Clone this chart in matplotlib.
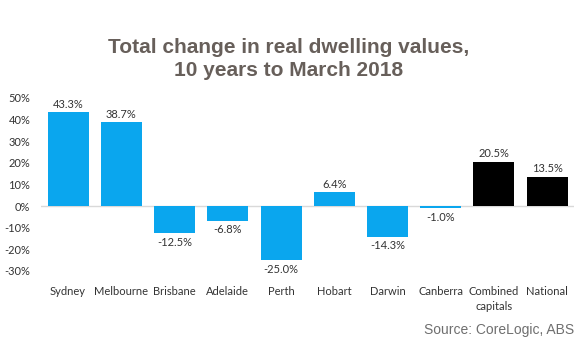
import numpy as np
import matplotlib.pyplot as plt

# Data
regions = ["Sydney", "Melbourne", "Brisbane", "Adelaide", "Perth", "Hobart",
           "Darwin", "Canberra", "Combined\ncapitals", "National"]
change = [43.3, 38.7, -12.5, -6.8, -25.0, 6.4, -14.3, -1.0, 20.5, 13.5]
is_aggregate = [False] * 8 + [True, True]
yticks = [50, 40, 30, 20, 10, 0, -10, -20, -30]

BLUE = "#0AA6EE"
BLACK = "#000000"
TXT = "#333333"
LABEL_FONT = ["Lato", "DejaVu Sans"]

fig = plt.figure(figsize=(5.8, 3.52), dpi=100)
ax = fig.add_axes([0.0714, 0.218, 0.918, 0.516])

x = np.arange(len(regions))
colors = [BLACK if agg else BLUE for agg in is_aggregate]
ax.bar(x, change, width=0.77, color=colors, zorder=2)

# zero line
ax.axhline(0, color="#d9d9d9", linewidth=1, zorder=1)

# value labels
for xi, v in zip(x, change):
    if v >= 0:
        ax.text(xi, v + 1.2, f"{v:.1f}%", ha="center", va="bottom",
                fontsize=8, color=TXT, family=LABEL_FONT)
    else:
        ax.text(xi, v - 1.6, f"{v:.1f}%", ha="center", va="top",
                fontsize=8, color=TXT, family=LABEL_FONT)

ax.set_xlim(-0.5, len(regions) - 0.5)
ax.set_ylim(-32, 52)
ax.set_yticks(yticks)
ax.set_yticklabels([f"{t}%" for t in yticks], family=LABEL_FONT, fontsize=8, color=TXT)
ax.set_xticks(x)
ax.set_xticklabels(regions, family=LABEL_FONT, fontsize=8, color=TXT, linespacing=1.45)
ax.tick_params(axis="both", length=0)
ax.tick_params(axis="y", pad=8)
ax.tick_params(axis="x", pad=8)
for s in ax.spines.values():
    s.set_visible(False)

fig.text(0.497, 0.833, "Total change in real dwelling values,\n10 years to March 2018",
         ha="center", va="center", fontsize=15, fontweight="bold", color="#675f5a",
         family=["Liberation Sans", "DejaVu Sans"], linespacing=1.3)

fig.text(0.99, 0.062, "Source: CoreLogic, ABS", ha="right", va="center",
         fontsize=10, color="#6f6f6f", family=["Liberation Sans", "DejaVu Sans"])

fig.savefig("out.png", dpi=100)
